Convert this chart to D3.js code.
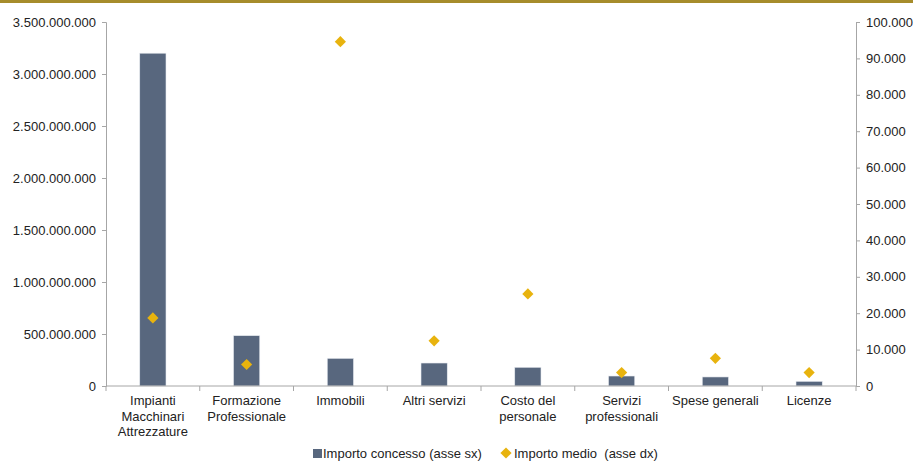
<!DOCTYPE html>
<html>
<head>
<meta charset="utf-8">
<script src="https://cdn.jsdelivr.net/npm/d3@7"></script>
<style>
  body { margin: 0; background: #fff; }
  svg text { font-family: "Liberation Sans", Arial, sans-serif; fill: #222; }
</style>
</head>
<body>
<div id="chart"></div>
<script>
var categories = [
	['Impianti', 'Macchinari', 'Attrezzature'],
	['Formazione', 'Professionale'],
	['Immobili'],
	['Altri servizi'],
	['Costo del', 'personale'],
	['Servizi', 'professionali'],
	['Spese generali'],
	['Licenze']
]
var importoConcesso = [3200000000, 484000000, 266000000, 221000000, 180000000, 96000000, 87000000, 45000000]
var importoMedio = [18700, 5900, 94600, 12400, 25300, 3700, 7600, 3700]
var leftTicks = [0, 500000000, 1000000000, 1500000000, 2000000000, 2500000000, 3000000000, 3500000000]
var rightTicks = [0, 10000, 20000, 30000, 40000, 50000, 60000, 70000, 80000, 90000, 100000]

var W = 913, H = 462,
	margins = {top: 22, right: 57, bottom: 76, left: 106},
	width = W - margins.left - margins.right,
	height = H - margins.top - margins.bottom

var itFormat = d3.formatLocale({decimal: ',', thousands: '.', grouping: [3], currency: ['€', '']}).format(',.0f')

var svg = d3.select('#chart').append('svg')
	.attr('width', W)
	.attr('height', H)

// striscia dorata in alto
svg.append('rect')
	.attr('x', 0).attr('y', 0)
	.attr('width', W).attr('height', 3)
	.attr('fill', '#a68c2b')

var g = svg.append('g')
	.attr('transform', 'translate(' + margins.left + ',' + margins.top + ')')

var x = d3.scaleBand()
	.domain(d3.range(categories.length))
	.range([0, width])
	.paddingInner(0.72).paddingOuter(0.36)

var xOuter = d3.scaleBand()
	.domain(d3.range(categories.length))
	.range([0, width])

var yL = d3.scaleLinear().domain([0, 3500000000]).range([height, 0])
var yR = d3.scaleLinear().domain([0, 100000]).range([height, 0])

var axisColor = '#a6a6a6'

// asse sinistro
var left = g.append('g')
	.call(d3.axisLeft(yL).tickValues(leftTicks).tickFormat(itFormat).tickSize(4).tickPadding(6))
left.selectAll('line, path').attr('stroke', axisColor)
left.selectAll('text').style('font-size', '13px').attr('fill', '#222')

// asse destro
var right = g.append('g')
	.attr('transform', 'translate(' + width + ',0)')
	.call(d3.axisRight(yR).tickValues(rightTicks).tickFormat(itFormat).tickSize(4).tickPadding(6))
right.selectAll('line, path').attr('stroke', axisColor)
right.selectAll('text').style('font-size', '13px').attr('fill', '#222')

// barre
g.selectAll('rect.bar')
	.data(importoConcesso)
	.enter().append('rect')
	.attr('class', 'bar')
	.attr('x', function(d, i) { return x(i) })
	.attr('y', function(d) { return yL(d) })
	.attr('width', x.bandwidth())
	.attr('height', function(d) { return height - yL(d) })
	.attr('fill', '#58677e')
	.attr('stroke', '#e8ebf0')
	.attr('stroke-width', 0.6)

// asse x
g.append('line')
	.attr('x1', 0).attr('x2', width)
	.attr('y1', height).attr('y2', height)
	.attr('stroke', axisColor)
g.selectAll('line.xtick')
	.data(d3.range(categories.length + 1))
	.enter().append('line')
	.attr('class', 'xtick')
	.attr('x1', function(d) { return d * xOuter.step() })
	.attr('x2', function(d) { return d * xOuter.step() })
	.attr('y1', height).attr('y2', height + 5)
	.attr('stroke', axisColor)

var labels = g.selectAll('text.xlab')
	.data(categories)
	.enter().append('text')
	.attr('class', 'xlab')
	.attr('text-anchor', 'middle')
	.style('font-size', '13px')
	.attr('transform', function(d, i) { return 'translate(' + (xOuter(i) + xOuter.bandwidth() / 2) + ',' + (height + 19) + ')' })
labels.selectAll('tspan')
	.data(function(d) { return d })
	.enter().append('tspan')
	.attr('x', 0)
	.attr('y', function(d, i) { return i * 15.5 })
	.text(function(d) { return d })

// rombi
var diamond = d3.symbol().type(d3.symbolDiamond2).size(80)
g.selectAll('path.pt')
	.data(importoMedio)
	.enter().append('path')
	.attr('class', 'pt')
	.attr('d', diamond)
	.attr('transform', function(d, i) { return 'translate(' + (xOuter(i) + xOuter.bandwidth() / 2) + ',' + yR(d) + ')' })
	.attr('fill', '#e8b30e')

// legenda
var legend = svg.append('g')
legend.append('rect')
	.attr('x', 313).attr('y', 449)
	.attr('width', 9).attr('height', 9)
	.attr('fill', '#58677e')
legend.append('text')
	.attr('x', 323).attr('y', 458)
	.style('font-size', '13px')
	.text('Importo concesso (asse sx)')
legend.append('path')
	.attr('d', diamond)
	.attr('transform', 'translate(506,453)')
	.attr('fill', '#e8b30e')
legend.append('text')
	.attr('x', 514).attr('y', 458)
	.style('font-size', '13px')
	.style('white-space', 'pre')
	.text('Importo medio  (asse dx)')
</script>
</body>
</html>
